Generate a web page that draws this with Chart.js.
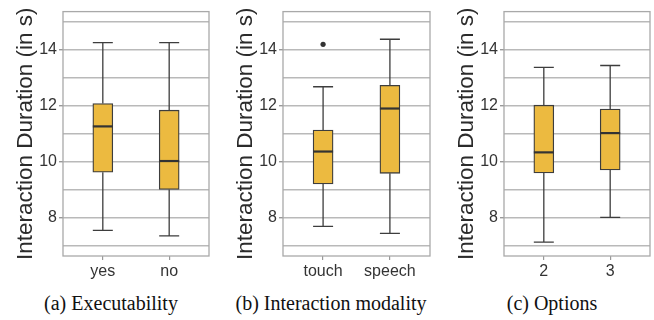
<!DOCTYPE html>
<html><head><meta charset="utf-8">
<script src="https://cdn.jsdelivr.net/npm/chart.js@4"></script>
<style>
body{margin:0;background:#fff;width:654px;height:320px;position:relative;overflow:hidden}
.panel{position:absolute;top:0;height:290px}
.cap{position:absolute;top:292px;font:20px "Liberation Serif",serif;color:#111;white-space:nowrap;transform:translateX(-50%)}
</style></head><body>
<div class="panel" style="left:0"><canvas id="c0" width="218" height="290"></canvas></div>
<div class="panel" style="left:220px"><canvas id="c1" width="218" height="290"></canvas></div>
<div class="panel" style="left:441px"><canvas id="c2" width="213" height="290"></canvas></div>
<div class="cap" id="t0" style="left:111px"></div>
<div class="cap" id="t1" style="left:331px"></div>
<div class="cap" id="t2" style="left:552px"></div>
<script>
const yTitle = 'Interaction Duration (in s)';
const panelTitles = ['(a) Executability', '(b) Interaction modality', '(c) Options'];
const categories = [['yes', 'no'], ['touch', 'speech'], ['2', '3']];
const whiskerLow = [[7.54, 7.34], [7.68, 7.43], [7.12, 8.0]];
const q1 = [[9.62, 9.0], [9.2, 9.58], [9.59, 9.7]];
const median = [[11.26, 10.02], [10.36, 11.9], [10.33, 11.02]];
const q3 = [[12.08, 11.84], [11.13, 12.73], [12.02, 11.88]];
const whiskerHigh = [[14.26, 14.26], [12.68, 14.38], [13.37, 13.44]];
const outliers = [[[], []], [[14.2], []], [[], []]];
const yTicks = [7, 8, 9, 10, 11, 12, 13, 14, 15];
const yLabels = [8, 10, 12, 14];

const boxFill = '#ECBA40', ink = '#3d3d3d', gridCol = '#b9b9b9';
const rightPad = [9, 8, 4];
const BOX_W = 20;

function boxExtras(p) {
  return {
    id: 'boxExtras',
    beforeDatasetsDraw(chart) {
      const { ctx, chartArea: a, scales: { x, y } } = chart;
      ctx.save();
      ctx.strokeStyle = '#a9a9a9'; ctx.lineWidth = 1.3;
      ctx.strokeRect(a.left, a.top, a.right - a.left, a.bottom - a.top);
      ctx.strokeStyle = ink; ctx.lineWidth = 1.3;
      categories[p].forEach((c, i) => {
        const px = x.getPixelForValue(i + 1);
        ctx.beginPath();
        ctx.moveTo(px, y.getPixelForValue(whiskerLow[p][i]));
        ctx.lineTo(px, y.getPixelForValue(q1[p][i]));
        ctx.moveTo(px, y.getPixelForValue(q3[p][i]));
        ctx.lineTo(px, y.getPixelForValue(whiskerHigh[p][i]));
        [whiskerLow[p][i], whiskerHigh[p][i]].forEach(v => {
          const py = y.getPixelForValue(v);
          ctx.moveTo(px - BOX_W / 2, py); ctx.lineTo(px + BOX_W / 2, py);
        });
        ctx.stroke();
      });
      ctx.restore();
    },
    afterDatasetsDraw(chart) {
      const { ctx, scales: { x, y } } = chart;
      ctx.save();
      ctx.strokeStyle = '#333'; ctx.lineWidth = 2.2;
      categories[p].forEach((c, i) => {
        const px = x.getPixelForValue(i + 1), py = y.getPixelForValue(median[p][i]);
        ctx.beginPath();
        ctx.moveTo(px - BOX_W / 2, py); ctx.lineTo(px + BOX_W / 2, py);
        ctx.stroke();
      });
      ctx.restore();
    }
  };
}

function makePanel(p) {
  document.getElementById('t' + p).textContent = panelTitles[p];
  const pts = [];
  outliers[p].forEach((list, i) => list.forEach(v => pts.push({ x: i + 1, y: v })));
  new Chart(document.getElementById('c' + p), {
    type: 'bar',
    data: {
      datasets: [
        {
          data: categories[p].map((c, i) => ({ x: i + 1, y: [q1[p][i], q3[p][i]] })),
          backgroundColor: boxFill, borderColor: ink, borderWidth: 1.3,
          borderSkipped: false, barThickness: BOX_W
        },
        {
          type: 'scatter', data: pts,
          pointRadius: 2.6, pointBackgroundColor: '#333', pointBorderWidth: 0
        }
      ]
    },
    options: {
      responsive: false, animation: false,
      layout: { padding: { top: 10, right: rightPad[p], left: 0, bottom: 0 } },
      plugins: { legend: { display: false }, tooltip: { enabled: false } },
      scales: {
        x: {
          type: 'linear', min: 0.4, max: 2.6, offset: false,
          afterBuildTicks: s => { s.ticks = categories[p].map((c, i) => ({ value: i + 1 })); },
          afterFit: s => { s.height = 34; },
          ticks: {
            callback: (v) => categories[p][v - 1],
            font: { family: 'Liberation Sans', size: 16 }, color: '#333', padding: 2
          },
          grid: {
            offset: false, drawOnChartArea: false, tickLength: 4, lineWidth: 1.2, tickColor: '#999'
          },
          border: { display: false }
        },
        y: {
          min: 6.62, max: 15.37,
          afterBuildTicks: s => { s.ticks = yTicks.map(v => ({ value: v })); },
          afterFit: s => { s.width = 63; },
          ticks: {
            callback: v => yLabels.includes(v) ? v : '',
            font: { family: 'Liberation Sans', size: 16 }, color: '#333', padding: 2
          },
          grid: {
            color: gridCol, lineWidth: 1.4, tickLength: 4,
            tickColor: c => yLabels.includes(c.tick && c.tick.value) ? '#999' : 'transparent'
          },
          border: { display: false },
          title: {
            display: true, text: yTitle, color: '#2b2b2b',
            font: { family: 'Liberation Sans', size: 22.5 }, padding: { top: 12, bottom: 0 }
          }
        }
      }
    },
    plugins: [boxExtras(p)]
  });
}

[0, 1, 2].forEach(makePanel);
</script>
</body></html>
